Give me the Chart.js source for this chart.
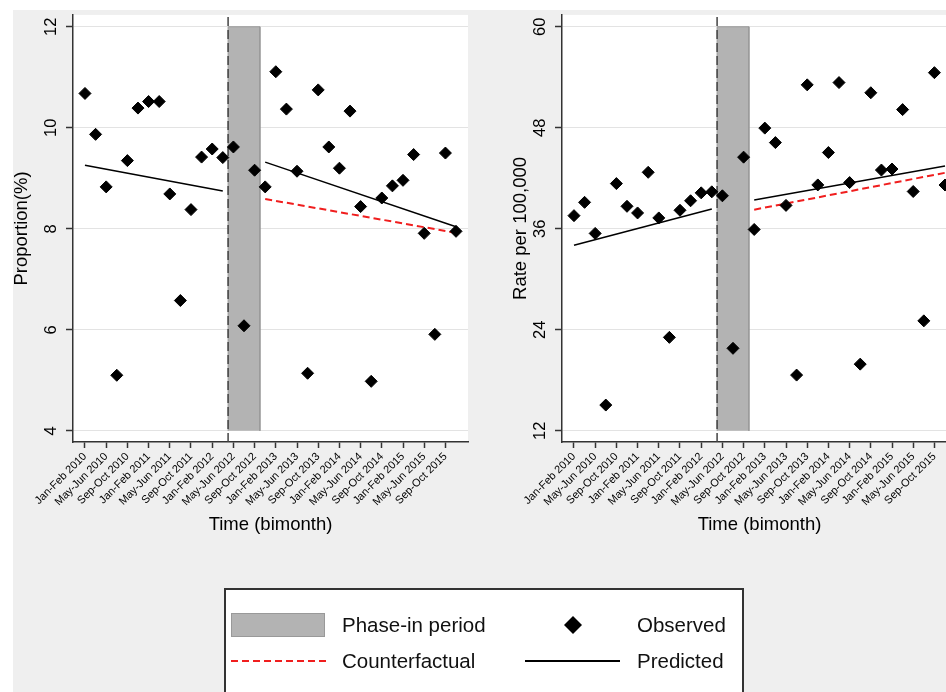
<!DOCTYPE html>
<html>
<head>
<meta charset="utf-8">
<script src="https://cdn.jsdelivr.net/npm/chart.js@4.4.0/dist/chart.umd.min.js"></script>
<style>
html, body { margin: 0; padding: 0; background: #fff; }
body { width: 946px; height: 692px; overflow: hidden; position: relative; font-family: "Liberation Sans", Arial, sans-serif; }
#bg { position: absolute; left: 13px; top: 10px; right: 0; bottom: 0; background: #efefef; }
#left { position: absolute; left: 0; top: 0; }
#right { position: absolute; left: 473px; top: 0; }
#legend { position: absolute; left: 224px; top: 588px; width: 520px; height: 140px; background: #fff; border: 2px solid #333; box-sizing: border-box; }
.lg { position: absolute; font-size: 20.5px; line-height: 24px; color: #111; white-space: nowrap; }
#sym { position: absolute; left: 0; top: 0; }
</style>
</head>
<body>
<div id="bg"></div>
<canvas id="left" width="473" height="560"></canvas>
<canvas id="right" width="500" height="560"></canvas>
<div id="legend"></div>
<svg id="sym" width="946" height="692">
  <rect x="231.5" y="613.5" width="93" height="23" fill="#b3b3b3" stroke="#999" stroke-width="1"></rect>
  <polygon points="573,616 582,625 573,634 564,625" fill="#000"></polygon>
  <line x1="231" y1="661" x2="327" y2="661" stroke="#f01e1e" stroke-width="2" stroke-dasharray="7,4"></line>
  <line x1="525" y1="661" x2="620" y2="661" stroke="#000" stroke-width="2"></line>
</svg>
<div class="lg" style="left:342px; top:613px;">Phase-in period</div>
<div class="lg" style="left:637px; top:613px;">Observed</div>
<div class="lg" style="left:342px; top:649px;">Counterfactual</div>
<div class="lg" style="left:637px; top:649px;">Predicted</div>
<script>
// bimonthly periods, Jan-Feb 2010 .. Nov-Dec 2015
var bimonths = ['Jan-Feb', 'Mar-Apr', 'May-Jun', 'Jul-Aug', 'Sep-Oct', 'Nov-Dec'];
var years = [2010, 2011, 2012, 2013, 2014, 2015];
var periods = [];
years.forEach(function (y) {
    bimonths.forEach(function (b) { periods.push(b + ' ' + y); });
});
var labelIdx = [0, 2, 4, 6, 8, 10, 12, 14, 16, 18, 20, 22, 24, 26, 28, 30, 32, 34];

// proportion (%)
var propObserved = [10.68, 9.87, 8.83, 5.10, 9.35, 10.39, 10.52, 10.52, 8.69, 6.58, 8.38, 9.42,
    9.58, 9.41, 9.62, 6.08, 9.16, 8.83, 11.11, 10.37, 9.14, 5.14, 10.75, 9.62,
    9.20, 10.33, 8.44, 4.98, 8.61, 8.85, 8.96, 9.47, 7.91, 5.91, 9.50, 7.95];
var propPredPre = [9.26, 8.75];
var propPredPost = [9.32, 8.04];
var propCounter = [8.59, 7.92];
var propTicks = [4, 6, 8, 10, 12];

// rate per 100,000
var rateObserved = [37.56, 39.14, 35.45, 15.06, 41.37, 38.67, 37.88, 42.71, 37.29, 23.10, 38.20, 39.33,
    40.27, 40.39, 39.92, 21.80, 44.51, 35.92, 47.96, 46.24, 38.78, 18.62, 53.10, 41.21,
    45.06, 53.37, 41.49, 19.92, 52.16, 42.98, 43.10, 50.16, 40.43, 25.06, 54.55, 41.20];
var ratePredPre = [34.04, 38.35];
var ratePredPost = [39.41, 43.47];
var rateCounter = [38.27, 42.65];
var rateTicks = [12, 24, 36, 48, 60];

var preIdx = [0, 13];
var postIdx = [17, 35];
var phaseIn = [13.5, 16.5];

var fam = '"Liberation Sans", Arial, sans-serif';

var plotBg = {
    id: 'plotBg',
    beforeDraw: function (chart) {
        var a = chart.chartArea, ctx = chart.ctx;
        ctx.save();
        ctx.fillStyle = '#fff';
        ctx.fillRect(a.left, a.top, a.right - a.left, a.bottom - a.top);
        ctx.restore();
    }
};

function pts(idx, vals) {
    return vals.map(function (v, i) { return {x: idx[i], y: v}; });
}

function makeChart(id, observed, predPre, predPost, counter, yTicks, yMin, yMax, yTitle, axisWidth, titlePad, padRight) {
    var lo = yTicks[0], hi = yTicks[yTicks.length - 1];
    return new Chart(document.getElementById(id), {
        type: 'scatter',
        data: {
            datasets: [{
                data: observed.map(function (v, i) { return {x: i, y: v}; }),
                pointStyle: 'rectRot',
                pointRadius: 6,
                backgroundColor: '#000',
                borderColor: '#000',
                borderWidth: 1,
                clip: false
            }, {
                data: pts(preIdx, predPre),
                showLine: true, pointRadius: 0,
                borderColor: '#000', borderWidth: 1.5
            }, {
                data: pts(postIdx, predPost),
                showLine: true, pointRadius: 0,
                borderColor: '#000', borderWidth: 1.5
            }, {
                data: pts(postIdx, counter),
                showLine: true, pointRadius: 0,
                borderColor: '#f01e1e', borderWidth: 2, borderDash: [7, 4]
            }, {
                data: [{x: phaseIn[0], y: yMin}, {x: phaseIn[0], y: yMax}],
                showLine: true, pointRadius: 0,
                borderColor: '#444', borderWidth: 1.5, borderDash: [9, 4]
            }, {
                data: [{x: phaseIn[0], y: lo}, {x: phaseIn[0], y: hi}, {x: phaseIn[1], y: hi}, {x: phaseIn[1], y: lo}],
                showLine: true, pointRadius: 0,
                borderColor: '#999', borderWidth: 1,
                backgroundColor: '#b3b3b3',
                fill: {value: lo}
            }]
        },
        options: {
            animation: false,
            responsive: false,
            layout: {padding: {top: 10, left: 0, right: padRight, bottom: 0}, autoPadding: false},
            plugins: {legend: {display: false}, tooltip: {enabled: false}},
            scales: {
                x: {
                    type: 'linear',
                    min: -1.13,
                    max: 36.13,
                    afterBuildTicks: function (s) {
                        s.ticks = labelIdx.map(function (v) { return {value: v}; });
                    },
                    afterFit: function (s) { s.height = 118; },
                    ticks: {
                        callback: function (v) { return periods[v]; },
                        minRotation: 45, maxRotation: 45, autoSkip: false,
                        padding: 2, color: '#000',
                        font: {family: fam, size: 11}
                    },
                    grid: {drawOnChartArea: false, tickLength: 6, tickColor: '#333', tickWidth: 1.5},
                    border: {color: '#333', width: 1.5},
                    title: {
                        display: true, text: 'Time (bimonth)', color: '#000',
                        font: {family: fam, size: 18.5},
                        padding: {top: 0, bottom: 24}
                    }
                },
                y: {
                    type: 'linear',
                    min: yMin,
                    max: yMax,
                    afterBuildTicks: function (s) {
                        s.ticks = yTicks.map(function (v) { return {value: v}; });
                    },
                    afterFit: function (s) { s.width = axisWidth; },
                    ticks: {
                        minRotation: 90, maxRotation: 90, crossAlign: 'center',
                        padding: 5, color: '#000',
                        font: {family: fam, size: 16.5}
                    },
                    grid: {color: '#e3e3e3', lineWidth: 1, tickLength: 7, tickColor: '#333', tickWidth: 1.5},
                    border: {color: '#333', width: 1.5},
                    title: {
                        display: true, text: yTitle, color: '#000',
                        font: {family: fam, size: 18.5},
                        padding: {top: titlePad, bottom: 0}
                    }
                }
            }
        },
        plugins: [plotBg]
    });
}

makeChart('left', propObserved, propPredPre, propPredPost, propCounter, propTicks, 3.779, 12.235,
    'Proportion(%)', 73, 11, 5);
makeChart('right', rateObserved, ratePredPre, ratePredPost, rateCounter, rateTicks, 10.67, 61.41,
    'Rate per 100,000', 89, 37, 16);
</script>
</body>
</html>
